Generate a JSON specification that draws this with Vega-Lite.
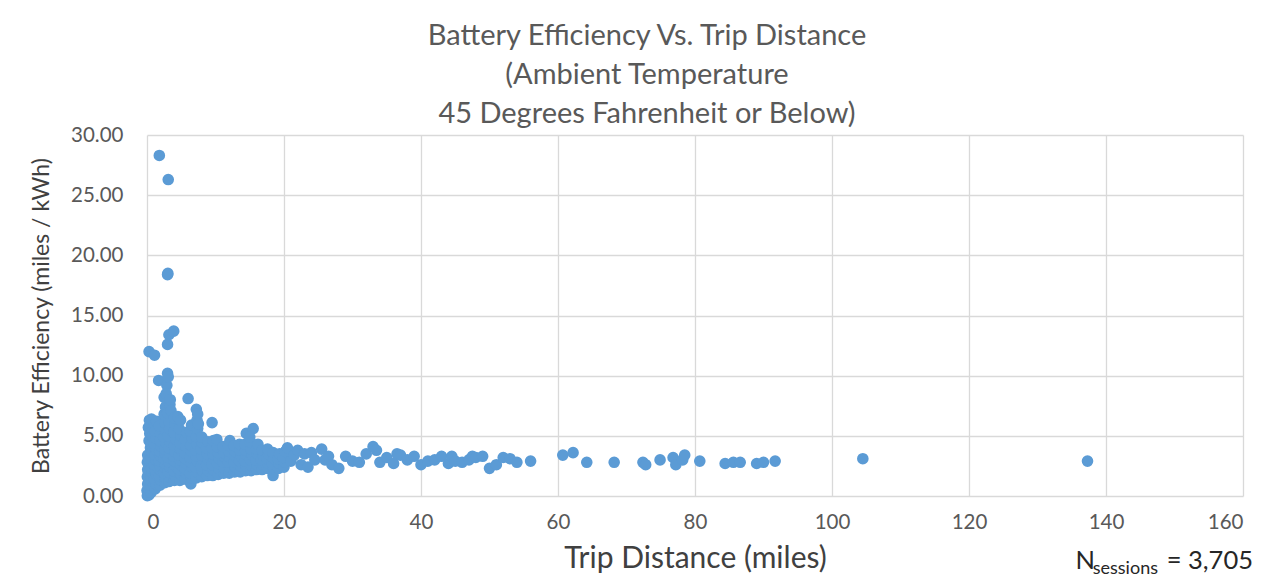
{
  "$schema": "https://vega.github.io/schema/vega-lite/v6.json",
  "width": 1096,
  "height": 361,
  "autosize": {"type": "none"},
  "padding": {"left": 147, "top": 135, "right": 29, "bottom": 89},
  "background": "white",
  "title": {
    "text": ["Battery Efficiency Vs. Trip Distance", "(Ambient Temperature", "45 Degrees Fahrenheit or Below)"],
    "font": "Lato", "fontSize": 29, "fontWeight": "normal", "color": "#595959",
    "lineHeight": 39, "anchor": "middle", "dx": -48, "offset": -4
  },
  "config": {
    "view": {"stroke": null},
    "axis": {
      "grid": true, "gridColor": "#D9D9D9", "gridWidth": 1.3, "domain": false, "ticks": false,
      "labelFont": "Lato", "labelFontSize": 20.5, "labelColor": "#595959",
      "titleFont": "Lato", "titleFontWeight": "normal", "titleColor": "#404040"
    }
  },
  "layer": [
    {
      "data": {"values": [
        {"miles":0.05,"eff":0.02},{"miles":0.15,"eff":0.2},{"miles":0.0,"eff":0.45},{"miles":0.2,"eff":0.7},{"miles":0.1,"eff":1.0},{"miles":0.25,"eff":1.3},{"miles":0.05,"eff":1.6},{"miles":0.2,"eff":1.9},{"miles":0.1,"eff":2.2},{"miles":0.3,"eff":2.5},{"miles":0.05,"eff":2.8},{"miles":0.2,"eff":3.1},{"miles":0.1,"eff":3.4},{"miles":0.3,"eff":0.1},{"miles":0.35,"eff":3.0},
        {"miles":0.2,"eff":5.7},{"miles":0.35,"eff":6.3},{"miles":0.5,"eff":5.9},{"miles":0.65,"eff":6.4},{"miles":0.4,"eff":5.2},{"miles":0.3,"eff":4.6},{"miles":0.5,"eff":4.0},{"miles":0.3,"eff":12.0},{"miles":1.1,"eff":11.7},
        {"miles":0.6,"eff":0.3},{"miles":0.7,"eff":0.6},{"miles":0.55,"eff":0.9},{"miles":0.75,"eff":1.2},{"miles":0.6,"eff":1.5},{"miles":0.8,"eff":1.9},{"miles":0.65,"eff":2.3},{"miles":0.8,"eff":2.7},{"miles":0.6,"eff":3.1},{"miles":0.75,"eff":3.6},{"miles":0.6,"eff":4.3},{"miles":0.8,"eff":5.0},
        {"miles":1.2,"eff":0.6},{"miles":1.3,"eff":1.0},{"miles":1.1,"eff":1.4},{"miles":1.35,"eff":1.8},{"miles":1.2,"eff":2.2},{"miles":1.1,"eff":2.6},{"miles":1.3,"eff":3.0},{"miles":1.2,"eff":3.4},{"miles":1.4,"eff":3.8},{"miles":1.1,"eff":4.3},{"miles":1.3,"eff":4.8},{"miles":1.2,"eff":5.4},{"miles":1.4,"eff":6.2},
        {"miles":1.9,"eff":0.9},{"miles":2.0,"eff":1.3},{"miles":1.8,"eff":1.7},{"miles":2.05,"eff":2.1},{"miles":1.9,"eff":2.5},{"miles":1.8,"eff":2.9},{"miles":2.0,"eff":3.3},{"miles":1.85,"eff":3.7},{"miles":2.1,"eff":4.1},{"miles":1.9,"eff":4.6},{"miles":2.0,"eff":5.2},{"miles":1.8,"eff":5.8},{"miles":1.7,"eff":9.6},{"miles":1.8,"eff":28.3},
        {"miles":2.6,"eff":1.1},{"miles":2.7,"eff":1.5},{"miles":2.5,"eff":1.9},{"miles":2.75,"eff":2.3},{"miles":2.6,"eff":2.7},{"miles":2.5,"eff":3.1},{"miles":2.7,"eff":3.5},{"miles":2.6,"eff":3.9},{"miles":2.8,"eff":4.4},{"miles":2.5,"eff":4.9},{"miles":2.7,"eff":5.5},{"miles":2.6,"eff":6.1},{"miles":2.5,"eff":6.8},{"miles":2.7,"eff":7.4},{"miles":2.5,"eff":8.2},{"miles":2.9,"eff":9.2},{"miles":2.8,"eff":8.5},
        {"miles":3.2,"eff":1.2},{"miles":3.3,"eff":1.6},{"miles":3.1,"eff":2.0},{"miles":3.35,"eff":2.4},{"miles":3.2,"eff":2.8},{"miles":3.1,"eff":3.2},{"miles":3.3,"eff":3.6},{"miles":3.2,"eff":4.0},{"miles":3.4,"eff":4.5},{"miles":3.1,"eff":5.0},{"miles":3.3,"eff":5.6},{"miles":3.2,"eff":6.2},{"miles":3.0,"eff":6.9},{"miles":3.35,"eff":7.6},{"miles":3.4,"eff":8.0},{"miles":3.1,"eff":26.3},{"miles":3.05,"eff":18.5},{"miles":3.0,"eff":18.4},{"miles":3.0,"eff":12.6},{"miles":3.2,"eff":13.4},{"miles":3.9,"eff":13.7},{"miles":3.0,"eff":10.2},{"miles":3.1,"eff":9.9},{"miles":3.5,"eff":7.1},
        {"miles":4.0,"eff":1.3},{"miles":4.1,"eff":1.7},{"miles":3.9,"eff":2.1},{"miles":4.15,"eff":2.5},{"miles":4.0,"eff":2.9},{"miles":3.9,"eff":3.3},{"miles":4.1,"eff":3.7},{"miles":4.0,"eff":4.2},{"miles":4.2,"eff":4.7},{"miles":3.9,"eff":5.3},{"miles":4.1,"eff":5.9},{"miles":4.0,"eff":6.5},{"miles":4.5,"eff":6.6},
        {"miles":4.8,"eff":1.3},{"miles":4.9,"eff":1.8},{"miles":4.7,"eff":2.2},{"miles":4.95,"eff":2.6},{"miles":4.8,"eff":3.0},{"miles":4.7,"eff":3.4},{"miles":4.9,"eff":3.9},{"miles":4.8,"eff":4.4},{"miles":5.0,"eff":5.0},{"miles":4.7,"eff":5.6},{"miles":4.9,"eff":6.3},
        {"miles":5.6,"eff":1.4},{"miles":5.7,"eff":1.9},{"miles":5.5,"eff":2.3},{"miles":5.75,"eff":2.7},{"miles":5.6,"eff":3.1},{"miles":5.5,"eff":3.6},{"miles":5.7,"eff":4.1},{"miles":5.6,"eff":4.7},{"miles":5.8,"eff":5.3},{"miles":6.0,"eff":8.1},
        {"miles":6.4,"eff":1.0},{"miles":6.5,"eff":1.5},{"miles":6.3,"eff":1.9},{"miles":6.55,"eff":2.4},{"miles":6.4,"eff":2.8},{"miles":6.3,"eff":3.2},{"miles":6.5,"eff":3.7},{"miles":6.4,"eff":4.2},{"miles":6.6,"eff":4.8},{"miles":6.3,"eff":5.4},{"miles":6.5,"eff":5.9},
        {"miles":7.2,"eff":1.5},{"miles":7.3,"eff":2.0},{"miles":7.1,"eff":2.4},{"miles":7.35,"eff":2.9},{"miles":7.2,"eff":3.3},{"miles":7.1,"eff":3.8},{"miles":7.3,"eff":4.3},{"miles":7.2,"eff":4.9},{"miles":7.4,"eff":5.6},{"miles":7.3,"eff":6.3},{"miles":7.2,"eff":7.2},{"miles":7.4,"eff":6.8},{"miles":7.5,"eff":6.0},
        {"miles":8.0,"eff":1.6},{"miles":8.1,"eff":2.1},{"miles":7.9,"eff":2.5},{"miles":8.15,"eff":3.0},{"miles":8.0,"eff":3.4},{"miles":7.9,"eff":3.9},{"miles":8.1,"eff":4.4},{"miles":8.0,"eff":4.9},
        {"miles":8.8,"eff":1.7},{"miles":8.9,"eff":2.1},{"miles":8.7,"eff":2.6},{"miles":8.95,"eff":3.0},{"miles":8.8,"eff":3.5},{"miles":8.7,"eff":4.0},{"miles":8.9,"eff":4.5},
        {"miles":9.6,"eff":1.7},{"miles":9.7,"eff":2.2},{"miles":9.5,"eff":2.6},{"miles":9.75,"eff":3.1},{"miles":9.6,"eff":3.5},{"miles":9.5,"eff":4.0},{"miles":9.7,"eff":4.6},{"miles":9.5,"eff":6.1},
        {"miles":10.4,"eff":1.8},{"miles":10.5,"eff":2.3},{"miles":10.3,"eff":2.7},{"miles":10.55,"eff":3.1},{"miles":10.4,"eff":3.6},{"miles":10.3,"eff":4.1},{"miles":10.2,"eff":4.7},
        {"miles":11.2,"eff":1.9},{"miles":11.3,"eff":2.3},{"miles":11.1,"eff":2.8},{"miles":11.35,"eff":3.2},{"miles":11.2,"eff":3.6},{"miles":11.1,"eff":4.1},
        {"miles":12.0,"eff":1.9},{"miles":12.1,"eff":2.4},{"miles":11.9,"eff":2.8},{"miles":12.15,"eff":3.2},{"miles":12.0,"eff":3.7},{"miles":11.9,"eff":4.2},{"miles":12.1,"eff":4.6},
        {"miles":12.8,"eff":2.0},{"miles":12.9,"eff":2.4},{"miles":12.7,"eff":2.8},{"miles":12.95,"eff":3.3},{"miles":12.8,"eff":3.7},{"miles":12.7,"eff":4.2},
        {"miles":13.6,"eff":2.0},{"miles":13.7,"eff":2.5},{"miles":13.5,"eff":2.9},{"miles":13.75,"eff":3.3},{"miles":13.6,"eff":3.8},{"miles":13.5,"eff":4.3},
        {"miles":14.4,"eff":2.1},{"miles":14.5,"eff":2.5},{"miles":14.3,"eff":2.9},{"miles":14.55,"eff":3.4},{"miles":14.4,"eff":3.8},{"miles":14.3,"eff":4.3},{"miles":14.5,"eff":5.2},
        {"miles":15.2,"eff":2.1},{"miles":15.3,"eff":2.5},{"miles":15.1,"eff":3.0},{"miles":15.35,"eff":3.4},{"miles":15.2,"eff":3.9},{"miles":15.1,"eff":4.5},{"miles":15.5,"eff":5.6},{"miles":15.0,"eff":4.9},
        {"miles":16.0,"eff":2.2},{"miles":16.1,"eff":2.6},{"miles":15.9,"eff":3.0},{"miles":16.15,"eff":3.5},{"miles":16.0,"eff":3.9},{"miles":16.2,"eff":4.3},
        {"miles":16.8,"eff":2.2},{"miles":16.9,"eff":2.6},{"miles":16.7,"eff":3.0},{"miles":16.95,"eff":3.4},{"miles":16.8,"eff":3.8},
        {"miles":17.6,"eff":2.3},{"miles":17.7,"eff":2.7},{"miles":17.5,"eff":3.1},{"miles":17.75,"eff":3.5},{"miles":17.6,"eff":3.9},
        {"miles":18.4,"eff":1.7},{"miles":18.5,"eff":2.3},{"miles":18.3,"eff":2.7},{"miles":18.55,"eff":3.1},{"miles":18.4,"eff":3.6},
        {"miles":19.2,"eff":2.3},{"miles":19.3,"eff":2.7},{"miles":19.1,"eff":3.1},{"miles":19.35,"eff":3.5},
        {"miles":20.0,"eff":2.4},{"miles":20.1,"eff":2.8},{"miles":19.9,"eff":3.2},{"miles":20.2,"eff":3.7},{"miles":20.5,"eff":4.0},
        {"miles":21.0,"eff":2.9},{"miles":21.5,"eff":3.4},{"miles":22.0,"eff":3.8},{"miles":22.5,"eff":2.6},{"miles":23.0,"eff":3.5},{"miles":23.5,"eff":2.4},{"miles":24.0,"eff":3.6},{"miles":24.5,"eff":3.0},{"miles":25.5,"eff":3.9},{"miles":26.0,"eff":3.0},{"miles":26.5,"eff":3.3},{"miles":27.0,"eff":2.6},{"miles":28.0,"eff":2.3},{"miles":29.0,"eff":3.3},{"miles":30.0,"eff":2.9},{"miles":31.0,"eff":2.8},{"miles":32.0,"eff":3.5},{"miles":33.0,"eff":4.1},{"miles":33.5,"eff":3.8},{"miles":34.0,"eff":2.8},{"miles":35.0,"eff":3.2},{"miles":36.0,"eff":2.7},{"miles":36.5,"eff":3.5},{"miles":37.0,"eff":3.4},{"miles":38.0,"eff":3.0},{"miles":39.0,"eff":3.3},{"miles":40.0,"eff":2.6},{"miles":41.0,"eff":2.9},{"miles":42.0,"eff":3.0},{"miles":43.0,"eff":3.3},{"miles":44.0,"eff":2.7},{"miles":44.5,"eff":3.3},{"miles":45.0,"eff":2.9},{"miles":46.0,"eff":2.8},{"miles":47.0,"eff":3.0},{"miles":47.5,"eff":3.3},{"miles":48.0,"eff":3.2},{"miles":49.0,"eff":3.3},{"miles":50.0,"eff":2.3},{"miles":51.0,"eff":2.6},{"miles":52.0,"eff":3.2},{"miles":53.0,"eff":3.1},{"miles":54.0,"eff":2.8},{"miles":56.0,"eff":2.9},{"miles":60.7,"eff":3.4},{"miles":62.2,"eff":3.6},{"miles":64.2,"eff":2.8},{"miles":68.2,"eff":2.8},{"miles":72.4,"eff":2.8},{"miles":72.8,"eff":2.6},{"miles":74.9,"eff":3.0},{"miles":76.8,"eff":3.2},{"miles":77.2,"eff":2.6},{"miles":78.2,"eff":3.0},{"miles":78.5,"eff":3.4},{"miles":80.7,"eff":2.9},{"miles":84.4,"eff":2.7},{"miles":85.6,"eff":2.8},{"miles":86.6,"eff":2.8},{"miles":89.0,"eff":2.7},{"miles":90.0,"eff":2.8},{"miles":91.7,"eff":2.9},{"miles":104.5,"eff":3.1},{"miles":137.3,"eff":2.9}
      ]},
      "mark": {"type": "circle", "size": 135, "color": "#5B9BD5", "opacity": 1},
      "encoding": {
        "x": {"field": "miles", "type": "quantitative", "scale": {"domain": [0, 160], "nice": false},
          "axis": {"values": [0,20,40,60,80,100,120,140,160], "title": "Trip Distance (miles)", "titleFontSize": 30, "labelPadding": 16, "titlePadding": 11}},
        "y": {"field": "eff", "type": "quantitative", "scale": {"domain": [0, 30], "nice": false},
          "axis": {"values": [0,5,10,15,20,25,30], "format": ".2f", "title": "Battery Efficiency (miles / kWh)", "titleFontSize": 23, "labelPadding": 24, "titlePadding": 17}}
      }
    },
    {
      "data": {"values": [{"label": "N"}]},
      "mark": {"type": "text", "font": "Lato", "fontSize": 25.5, "color": "#262626", "align": "right", "baseline": "alphabetic", "dx": -148, "dy": 73},
      "encoding": {"x": {"datum": 160}, "y": {"datum": 0}, "text": {"field": "label"}}
    },
    {
      "data": {"values": [{"label": "sessions"}]},
      "mark": {"type": "text", "font": "Lato", "fontSize": 18, "color": "#262626", "align": "right", "baseline": "alphabetic", "dx": -85, "dy": 78},
      "encoding": {"x": {"datum": 160}, "y": {"datum": 0}, "text": {"field": "label"}}
    },
    {
      "data": {"values": [{"label": "= 3,705"}]},
      "mark": {"type": "text", "font": "Lato", "fontSize": 25.5, "color": "#262626", "align": "right", "baseline": "alphabetic", "dx": 10, "dy": 73},
      "encoding": {"x": {"datum": 160}, "y": {"datum": 0}, "text": {"field": "label"}}
    }
  ]
}
